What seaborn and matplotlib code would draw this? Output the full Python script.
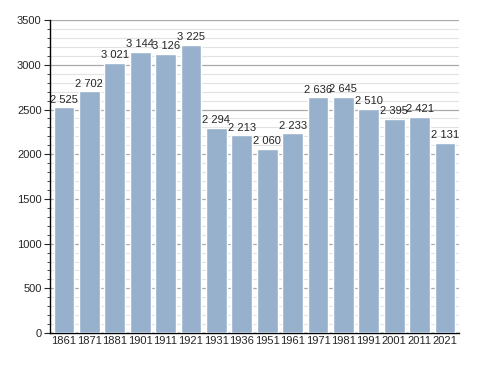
import matplotlib
matplotlib.use("Agg")
import matplotlib.pyplot as plt
import seaborn as sns
import pandas as pd
from matplotlib.ticker import MultipleLocator

years = ["1861", "1871", "1881", "1901", "1911", "1921", "1931", "1936",
         "1951", "1961", "1971", "1981", "1991", "2001", "2011", "2021"]
population = [2525, 2702, 3021, 3144, 3126, 3225, 2294, 2213,
              2060, 2233, 2636, 2645, 2510, 2395, 2421, 2131]

df = pd.DataFrame({"year": years, "pop": population})

sns.set_style("white")
plt.rcParams["font.family"] = ["Liberation Sans", "DejaVu Sans"]

fig = plt.figure(figsize=(4.88, 3.73), dpi=100)
ax = fig.add_axes([0.1025, 0.107, 0.838, 0.839])

sns.barplot(data=df, x="year", y="pop", color="#97b0cc", saturation=1,
            width=0.82, ax=ax, zorder=3)

ax.set_ylim(0, 3500)
ax.set_xlim(-0.55, len(years) - 0.45)
ax.yaxis.set_major_locator(MultipleLocator(500))
ax.yaxis.set_minor_locator(MultipleLocator(100))
ax.grid(axis="y", which="major", color="#aaaaaa", lw=0.9, zorder=0)
ax.grid(axis="y", which="minor", color="#e2e2e2", lw=0.8, zorder=0)
ax.set_axisbelow(True)
ax.tick_params(axis="y", which="major", length=4, width=0.8, labelsize=8, pad=2, left=True)
ax.tick_params(axis="y", which="minor", length=2, width=0.6, left=True)
ax.tick_params(axis="x", length=0, labelsize=8, pad=2)
ax.set_xlabel("")
ax.set_ylabel("")
for s in ["top", "right"]:
    ax.spines[s].set_visible(False)
for s in ["left", "bottom"]:
    ax.spines[s].set_color("black")
    ax.spines[s].set_linewidth(1)

for i, v in enumerate(population):
    ax.text(i, v + 30, f"{v:,}".replace(",", " "), ha="center", va="bottom",
            fontsize=8, zorder=4)

fig.savefig("out.png", dpi=100)
